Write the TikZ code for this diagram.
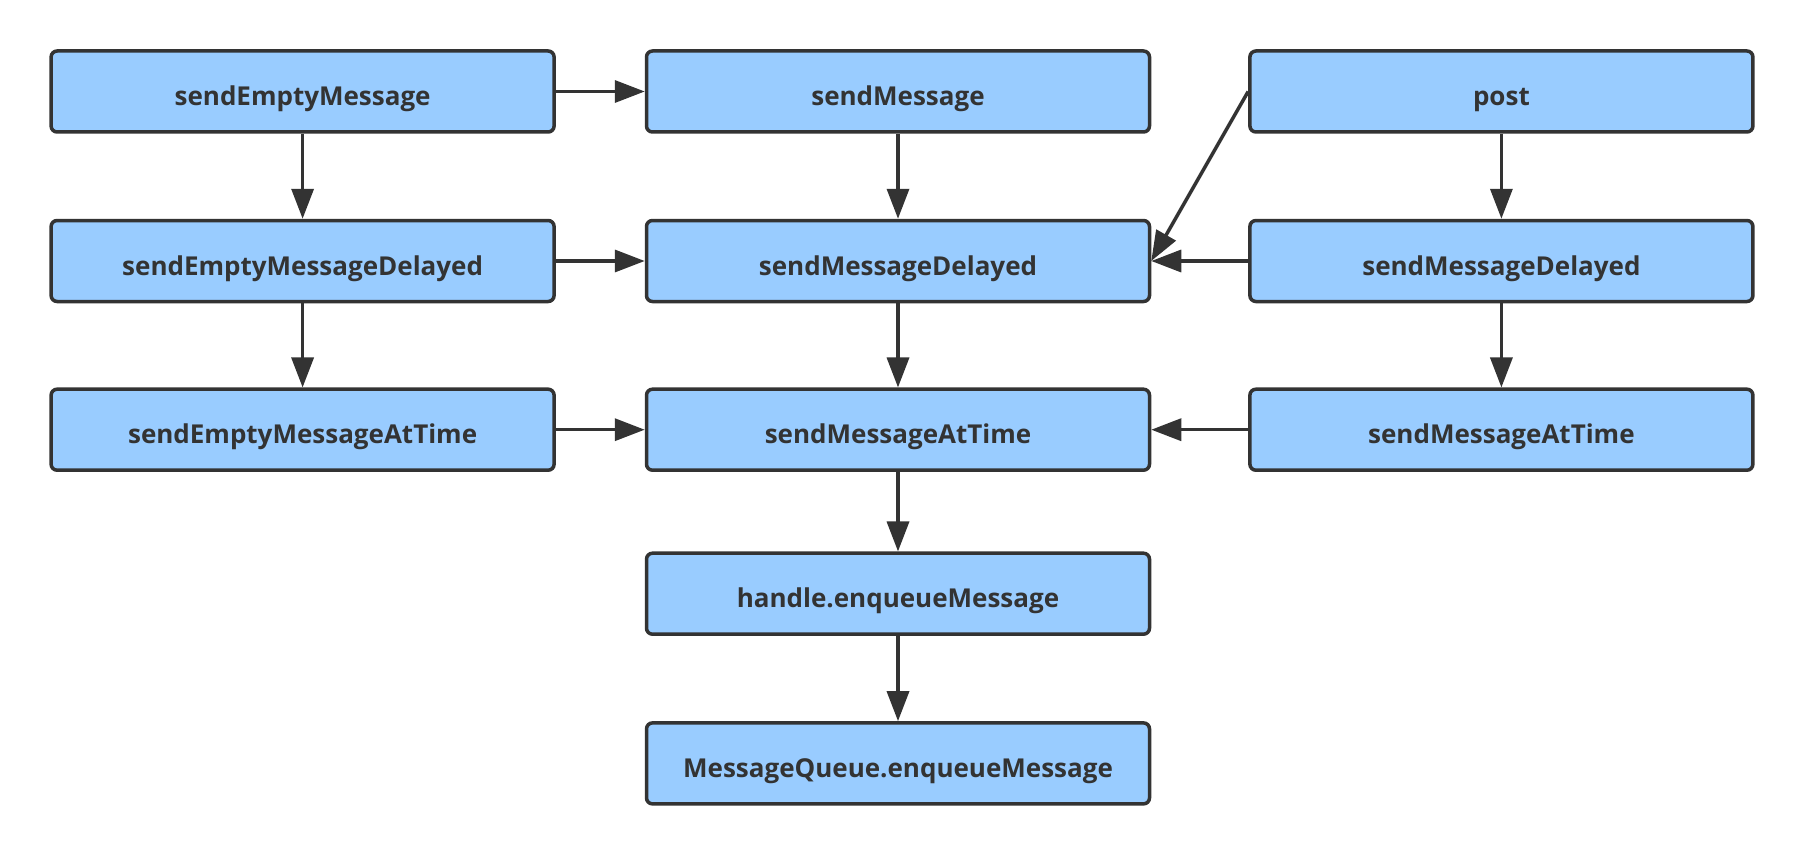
\documentclass[tikz,border=0pt]{standalone}
\usepackage{fontspec}
\setmainfont{Open Sans}
\usetikzlibrary{arrows.meta}
\definecolor{boxfill}{HTML}{99CCFF}
\definecolor{ink}{HTML}{333333}
\tikzset{
  fbox/.style={draw=ink, fill=boxfill, line width=3.5pt, rounded corners=6pt,
    minimum width=503pt, minimum height=81pt, inner sep=0pt,
    text height=28pt, text depth=0pt,
    font=\fontsize{26}{30}\selectfont\bfseries, text=ink},
  flow/.style={draw=ink, line width=3.5pt, -{Triangle[length=30pt,width=22pt]}}
}
\begin{document}
\begin{tikzpicture}[x=1pt,y=-1pt]
\useasboundingbox (0,0) rectangle (1804,856);
\node[fbox] (le1) at (302.6,91.5) {sendEmptyMessage};
\node[fbox] (le2) at (302.6,261) {sendEmptyMessageDelayed};
\node[fbox] (le3) at (302.6,429.7) {sendEmptyMessageAtTime};
\node[fbox] (me1) at (898,91.5) {sendMessage};
\node[fbox] (me2) at (898,261) {sendMessageDelayed};
\node[fbox] (me3) at (898,429.7) {sendMessageAtTime};
\node[fbox] (hq) at (898,593.7) {handle.enqueueMessage};
\node[fbox] (mq) at (898,763.4) {MessageQueue.enqueueMessage};
\node[fbox] (post) at (1501.4,91.5) {post};
\node[fbox] (re2) at (1501.4,261) {sendMessageDelayed};
\node[fbox] (re3) at (1501.4,429.7) {sendMessageAtTime};
\draw[flow] (le1) -- (me1);
\draw[flow] (le1) -- (le2);
\draw[flow] (le2) -- (me2);
\draw[flow] (le2) -- (le3);
\draw[flow] (le3) -- (me3);
\draw[flow] (me1) -- (me2);
\draw[flow] (me2) -- (me3);
\draw[flow] (me3) -- (hq);
\draw[flow] (hq) -- (mq);
\draw[flow] (post) -- (re2);
\draw[flow] (post.west) -- (me2.east);
\draw[flow] (re2) -- (me2);
\draw[flow] (re2) -- (re3);
\draw[flow] (re3) -- (me3);
\end{tikzpicture}
\end{document}
